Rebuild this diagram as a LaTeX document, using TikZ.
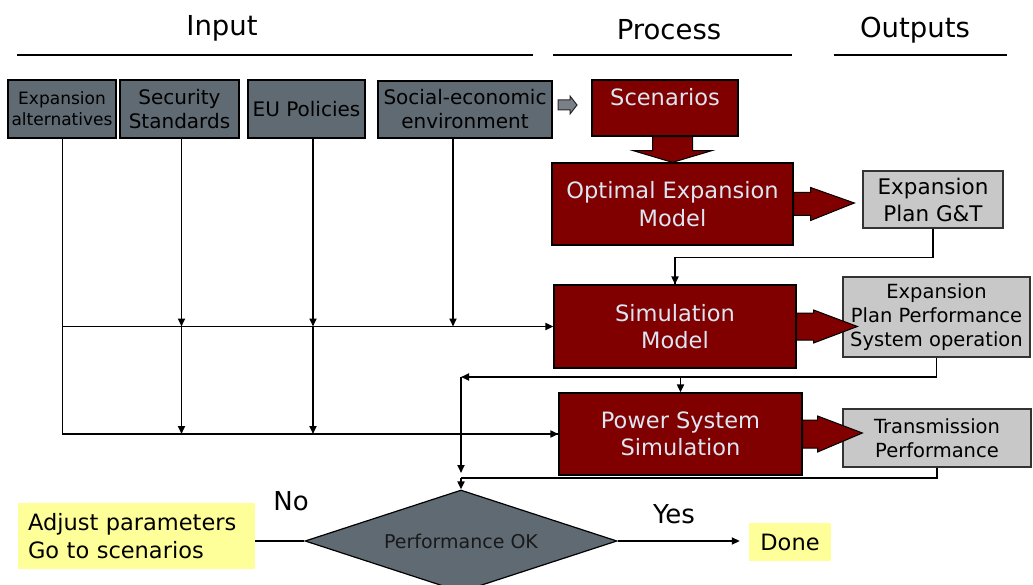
\documentclass[tikz,border=0pt]{standalone}
\usepackage{fontspec}
\setmainfont{DejaVu Sans}
\usetikzlibrary{arrows.meta,shapes.geometric,calc}
\definecolor{slate}{HTML}{5F6A73}
\definecolor{maroon}{HTML}{800000}
\definecolor{lilac}{HTML}{DCE6F2}
\definecolor{paleg}{HTML}{C8C8C8}
\definecolor{paley}{HTML}{FFFF99}
\definecolor{arrowgray}{HTML}{7A8088}
\begin{document}
\begin{tikzpicture}[x=1pt,y=-1pt,
  inbox/.style={draw=black, line width=1.2pt, fill=slate, text=black, align=center, inner sep=0pt},
  procbox/.style={draw=black, line width=1.2pt, fill=maroon, text=lilac, align=center, inner sep=0pt,
    font=\fontsize{22.5}{27.5}\selectfont},
  outbox/.style={draw=black!80, line width=1.2pt, fill=paleg, text=black, align=center, inner sep=0pt},
  note/.style={fill=paley, text=black, inner sep=0pt},
  conn/.style={line width=1.8pt, -{Triangle[length=8pt,width=7pt]}},
  link/.style={line width=1.8pt},
  fatarrow/.style={draw=black, line width=1pt, fill=maroon, line join=miter},
  heading/.style={font=\fontsize{27.5}{32}\selectfont},
  rule/.style={line width=1.6pt},
  answer/.style={font=\fontsize{26}{30}\selectfont},
]
\useasboundingbox (0,0) rectangle (1033,585);

% column headings
\node[heading] (hin)  at (222,28) {Input};
\node[heading] (hpro) at (669,30) {Process};
\node[heading] (hout) at (915,30) {Outputs};
\draw[rule] (17,55) -- (533,55);
\draw[rule] (553,55) -- (792,55);
\draw[rule] (834,55) -- (1007,55);

% inputs
\node[inbox, minimum width=108, minimum height=58, font=\fontsize{17}{21}\selectfont] (inp1) at (62,109) {Expansion\\alternatives};
\node[inbox, minimum width=119, minimum height=58, font=\fontsize{20}{24}\selectfont] (inp2) at (179.5,109) {Security\\Standards};
\node[inbox, minimum width=117, minimum height=58, font=\fontsize{20}{24}\selectfont] (inp3) at (306.5,109) {EU Policies};
\node[inbox, minimum width=174, minimum height=57, font=\fontsize{20}{24}\selectfont] (inp4) at (465,109.5) {Social-economic\\environment};

% process
\node[procbox, minimum width=146, minimum height=56] (scen) at (665,108) {};
\node[text=lilac, font=\fontsize{22.5}{27.5}\selectfont] (scent) at (665,97) {Scenarios};
\node[procbox, minimum width=241, minimum height=82] (opt) at (672.5,204) {Optimal Expansion\\Model};
\node[procbox, minimum width=242, minimum height=83] (sim) at (675,326.5) {Simulation\\Model};
\node[procbox, minimum width=243, minimum height=82] (pss) at (680.5,434) {Power System\\Simulation};

% outputs
\node[outbox, minimum width=140, minimum height=57, font=\fontsize{21.5}{27}\selectfont] (gt) at (933,199.5) {Expansion\\Plan G\&T};
\node[outbox, minimum width=187, minimum height=80, font=\fontsize{19.5}{24}\selectfont] (epp) at (936.5,317) {Expansion\\Plan Performance\\System operation};
\node[outbox, minimum width=188, minimum height=58, font=\fontsize{19.5}{24}\selectfont] (tp) at (937,438) {Transmission\\Performance};

% small arrow into the scenarios box
\draw[draw=black!85, line width=1pt, fill=arrowgray, line join=miter]
  (558,100) -- (570,100) -- (570,96) -- (577,105) -- (570,114) -- (570,110) -- (558,110) -- cycle;

% block arrows between process and outputs
\draw[fatarrow] ($(opt.north |- scen.south)+(-20,0)$) -- ++(0,14) -- ++(-19.5,0) -- (opt.north)
  -- ($(opt.north |- scen.south)+(39.5,14)$) -- ++(-19.5,0) -- ++(0,-14) -- cycle;
\draw[fatarrow] ($(opt.east)+(0,-11.5)$) -- ++(17,0) -- ++(0,-5) -- ($(gt.west |- opt.east)+(-8,-1)$)
  -- ($(opt.east)+(17,16.5)$) -- ++(0,-5) -- ($(opt.east)+(0,11.5)$) -- cycle;
\draw[fatarrow] ($(sim.east)+(0,-13.5)$) -- ++(17,0) -- ++(0,-3) -- ($(epp.west |- sim.east)+(15,0)$)
  -- ($(sim.east)+(17,16.5)$) -- ++(0,-3) -- ($(sim.east)+(0,13.5)$) -- cycle;
\draw[fatarrow] ($(pss.east)+(0,-14)$) -- ++(15,0) -- ++(0,-4) -- ($(tp.west |- pss.east)+(20,-1)$)
  -- ($(pss.east)+(15,18)$) -- ++(0,-4) -- ($(pss.east)+(0,14)$) -- cycle;

% inputs feeding the simulations
\coordinate (d1) at (62.5,138);
\coordinate (d2) at ($(inp2.south)+(2,0)$);
\coordinate (d3) at ($(inp3.south)+(6.5,0)$);
\coordinate (d4) at ($(inp4.south)+(-12,0)$);
\draw[link] (d1) |- (pss.west);
\draw[conn] (d1 |- pss.west) -- (pss.west);
\draw[conn] (d1 |- sim.west) -- (sim.west);
\draw[conn] (d2) -- (d2 |- sim.west);
\draw[conn] (d2 |- sim.west) -- (d2 |- pss.west);
\draw[conn] (d3) -- (d3 |- sim.west);
\draw[conn] (d3 |- sim.west) -- (d3 |- pss.west);
\draw[conn] (d4) -- (d4 |- sim.west);

% feedback from the outputs
\draw[link] (gt.south) -- ++(0,29) -| (sim.north);
\draw[conn] ($(sim.north)+(0,-8)$) -- (sim.north);
\coordinate (fb) at (461,377);
\draw[conn] (epp.south) |- (fb);
\draw[conn] (pss.north |- fb) -- (pss.north);
\coordinate (merge) at (461,478);
\draw[conn] (fb) -- ($(merge)+(0,-5)$);

% decision
\node[diamond, draw=black, line width=1.2pt, fill=slate, minimum width=312, minimum height=102,
  inner sep=0pt, shape aspect=3, text=black!90, font=\fontsize{19}{22}\selectfont] (ok) at (461,541) {Performance OK};
\draw[link] (tp.south) |- (merge);
\draw[conn] (merge) -- (ok.north);

\node[note, minimum height=66, text width=217, inner xsep=10, align=left,
  font=\fontsize{22.5}{27.5}\selectfont] (adj) at (136.5,536) {Adjust parameters\\Go to scenarios};
\node[note, minimum width=82, minimum height=38, font=\fontsize{22.5}{27.5}\selectfont] (done) at (790,542) {Done};
\draw[link] (ok.west) -- (ok.west -| adj.east);
\draw[conn] (ok.east) -- ($(done.west |- ok.east)+(-9,0)$);
\node[answer] (no) at (291,501) {No};
\node[answer] (yes) at (674,514) {Yes};
\end{tikzpicture}
\end{document}
